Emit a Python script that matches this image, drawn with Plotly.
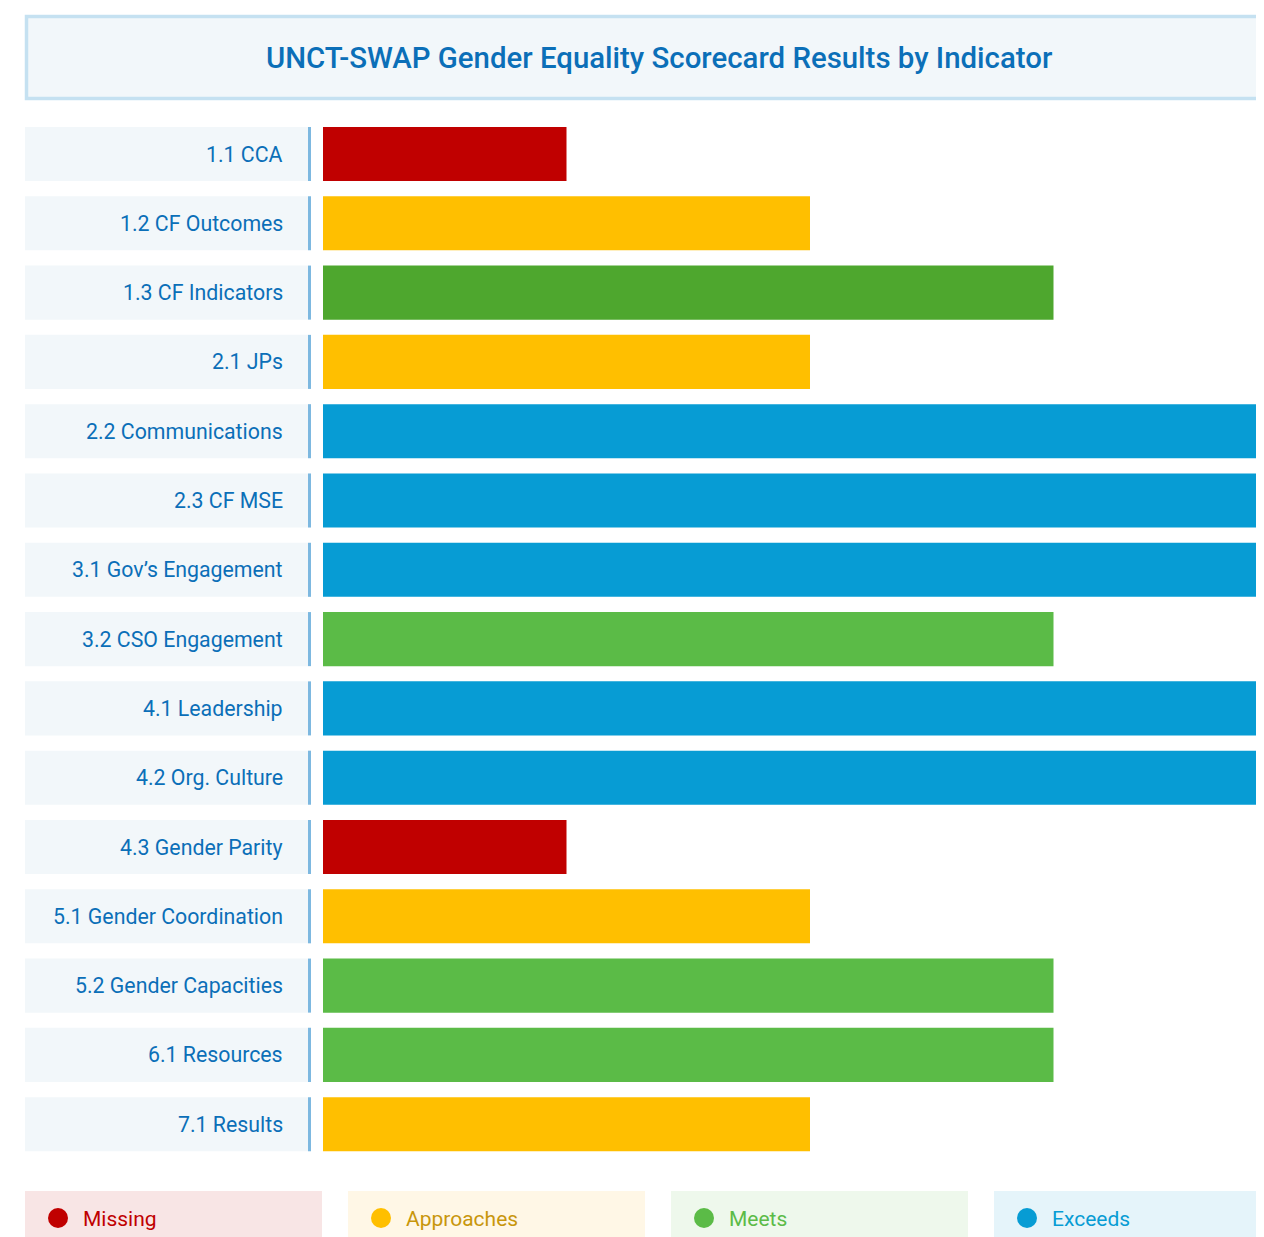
import plotly.graph_objects as go

W, H = 1256, 1229   # fills the window (page body margin is 8px)
OFF = 8             # page body margin

indicators = ["1.1 CCA", "1.2 CF Outcomes", "1.3 CF Indicators", "2.1 JPs",
              "2.2 Communications", "2.3 CF MSE", "3.1 Gov’s Engagement",
              "3.2 CSO Engagement", "4.1 Leadership", "4.2 Org. Culture",
              "4.3 Gender Parity", "5.1 Gender Coordination", "5.2 Gender Capacities",
              "6.1 Resources", "7.1 Results"]
ratings = ["Missing", "Approaches", "Meets", "Approaches", "Exceeds", "Exceeds",
           "Exceeds", "Meets", "Exceeds", "Exceeds", "Missing", "Approaches",
           "Meets", "Meets", "Approaches"]
scores = [1, 2, 3, 2, 4, 4, 4, 3, 4, 4, 1, 2, 3, 3, 2]
bar_colors = ["#C00000", "#FFBF00", "#4EA72E", "#FFBF00", "#079CD4", "#079CD4",
              "#079CD4", "#5BBB47", "#079CD4", "#079CD4", "#C00000", "#FFBF00",
              "#5BBB47", "#5BBB47", "#FFBF00"]
legend_labels = ["Missing", "Approaches", "Meets", "Exceeds"]
legend_dot = ["#C00000", "#FFBF00", "#5BBB47", "#079CD4"]
legend_text = ["#C00000", "#C8960C", "#5BBB47", "#079CD4"]
legend_bg = ["#F8E5E5", "#FFF7E6", "#EEF8EC", "#E5F4FA"]

title = "UNCT-SWAP Gender Equality Scorecard Results by Indicator"
FONT = "Roboto, 'Noto Sans', sans-serif"
LABEL_COLOR = "#0B6FB8"

def px(x):   # screen x -> paper
    return (x - OFF) / W

def py(y):   # screen y -> paper
    return 1 - (y - OFF) / H

# plot area geometry (screen pixels)
x_start = 323
unit = 243.5
row_top, pitch, n = 119.35, 69.3, len(indicators)
row_bot = row_top + pitch * n
x_end = W + OFF

fig = go.Figure(go.Bar(
    x=scores, y=list(range(n)), orientation="h",
    marker=dict(color=bar_colors, line=dict(width=0)),
    hovertext=[f"{a}: {r}" for a, r in zip(indicators, ratings)],
    hoverinfo="text", width=0.78,
))

shapes = []
annotations = []

# title box
shapes.append(dict(type="rect", xref="paper", yref="paper",
                   x0=px(26.5), x1=px(1320), y0=py(98.5), y1=py(16.5),
                   fillcolor="#F2F7FA", line=dict(color="#C5E1F1", width=3.5), layer="below"))
annotations.append(dict(text=title, xref="paper", yref="paper", x=px(658.5), y=py(58),
                        xanchor="center", yanchor="middle", showarrow=False,
                        font=dict(family=FONT, size=29.4, color="#0B6FB8", weight=500)))

# label boxes
for i, lab in enumerate(indicators):
    shapes.append(dict(type="rect", xref="paper", yref="y",
                       x0=px(25), x1=px(308), y0=i - 0.39, y1=i + 0.39,
                       fillcolor="#F2F7FA", line=dict(width=0), layer="below"))
    shapes.append(dict(type="line", xref="paper", yref="y",
                       x0=px(309.5), x1=px(309.5), y0=i - 0.39, y1=i + 0.39,
                       line=dict(color="#7DB8E0", width=3)))
    annotations.append(dict(text=lab, xref="paper", yref="y", x=px(285), y=i,
                            xanchor="right", yanchor="middle", showarrow=False,
                            font=dict(family=FONT, size=21.3, color=LABEL_COLOR)))

# legend boxes
lx = [25, 348, 671, 994]
for k, lab in enumerate(legend_labels):
    x0 = lx[k]
    shapes.append(dict(type="rect", xref="paper", yref="paper",
                       x0=px(x0), x1=px(x0 + 297), y0=py(1250), y1=py(1191),
                       fillcolor=legend_bg[k], line=dict(width=0), layer="below"))
    cx, cy, r = x0 + 33, 1218, 10
    shapes.append(dict(type="circle", xref="paper", yref="paper",
                       x0=px(cx - r), x1=px(cx + r), y0=py(cy + r), y1=py(cy - r),
                       fillcolor=legend_dot[k], line=dict(width=0)))
    annotations.append(dict(text=lab, xref="paper", yref="paper", x=px(x0 + 56), y=py(1219),
                            xanchor="left", yanchor="middle", showarrow=False,
                            font=dict(family=FONT, size=21, color=legend_text[k])))

fig.update_layout(
    width=W, height=H, margin=dict(l=0, r=0, t=0, b=0),
    paper_bgcolor="white", plot_bgcolor="white",
    showlegend=False, shapes=shapes, annotations=annotations,
    xaxis=dict(domain=[px(x_start), 1], range=[0, (x_end - x_start) / unit],
               showgrid=False, zeroline=False, showticklabels=False, ticks=""),
    yaxis=dict(domain=[py(row_bot), py(row_top)], range=[n - 0.5, -0.5],
               showgrid=False, zeroline=False, showticklabels=False, ticks=""),
    font=dict(family=FONT),
)

fig.write_html("out.html")
